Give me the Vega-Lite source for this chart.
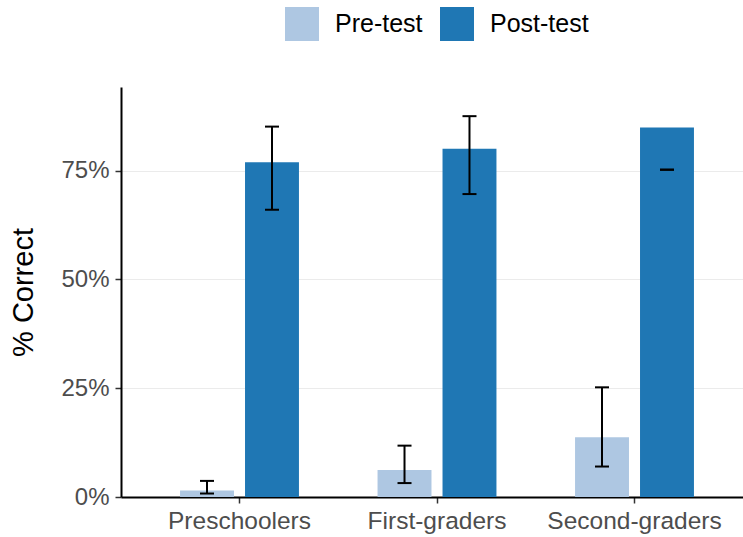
{
  "$schema": "https://vega.github.io/schema/vega-lite/v6.json",
  "width": 622,
  "height": 410,
  "autosize": {"type": "none"},
  "padding": {"left": 121, "top": 87, "right": 0, "bottom": 40},
  "background": "white",
  "data": {
    "values": [
      {"group": "Preschoolers", "test": "Pre-test", "value": 1.5, "lo": 0.8, "hi": 3.7},
      {"group": "Preschoolers", "test": "Post-test", "value": 76.9, "lo": 66.0, "hi": 85.1},
      {"group": "First-graders", "test": "Pre-test", "value": 6.2, "lo": 3.2, "hi": 11.8},
      {"group": "First-graders", "test": "Post-test", "value": 80.0, "lo": 69.6, "hi": 87.5},
      {"group": "Second-graders", "test": "Pre-test", "value": 13.7, "lo": 7.0, "hi": 25.2},
      {"group": "Second-graders", "test": "Post-test", "value": 84.9, "lo": 75.2, "hi": 75.2}
    ]
  },
  "encoding": {
    "x": {
      "field": "group",
      "type": "nominal",
      "sort": ["Preschoolers", "First-graders", "Second-graders"],
      "scale": {"paddingInner": 0.342, "paddingOuter": 0.271, "range": [0, 632]},
      "axis": {
        "title": null,
        "labelAngle": 0,
        "labelFont": "Liberation Sans",
        "labelFontSize": 24.5,
        "labelColor": "#4d4d4d",
        "labelPadding": 6,
        "tickSize": 6,
        "tickColor": "#333333",
        "tickWidth": 1.5,
        "domainColor": "#000000",
        "domainWidth": 2,
        "grid": false
      }
    },
    "xOffset": {
      "field": "test",
      "type": "nominal",
      "sort": ["Pre-test", "Post-test"],
      "scale": {"paddingInner": 0.17, "paddingOuter": 0.085}
    }
  },
  "layer": [
    {
      "mark": {"type": "bar"},
      "encoding": {
        "y": {
          "field": "value",
          "type": "quantitative",
          "scale": {"domain": [0, 94.2], "nice": false, "zero": true},
          "axis": {
            "title": "% Correct",
            "titleFont": "Liberation Sans",
            "titleFontSize": 29,
            "titleFontWeight": "normal",
            "titleColor": "#000000",
            "titlePadding": 22,
            "values": [0, 25, 50, 75],
            "labelExpr": "datum.value + '%'",
            "labelFont": "Liberation Sans",
            "labelFontSize": 24,
            "labelColor": "#4d4d4d",
            "labelPadding": 6,
            "tickSize": 6,
            "tickColor": "#333333",
            "tickWidth": 1.5,
            "domainColor": "#000000",
            "domainWidth": 2,
            "grid": true,
            "gridColor": "#ebebeb",
            "gridWidth": 1.2
          }
        },
        "color": {
          "field": "test",
          "type": "nominal",
          "sort": ["Pre-test", "Post-test"],
          "scale": {"domain": ["Pre-test", "Post-test"], "range": ["#aec7e2", "#1f77b4"]},
          "legend": {
            "title": null,
            "orient": "none",
            "direction": "horizontal",
            "legendX": 164,
            "legendY": -80,
            "symbolType": "square",
            "symbolSize": 1156,
            "symbolStrokeWidth": 0,
            "symbolOpacity": 1,
            "labelFont": "Liberation Sans",
            "labelFontSize": 25,
            "labelColor": "#000000",
            "labelOffset": 16,
            "columnPadding": 17,
            "padding": 0
          }
        }
      }
    },
    {
      "mark": {"type": "rule", "color": "#000000", "strokeWidth": 2},
      "encoding": {
        "y": {"field": "lo", "type": "quantitative"},
        "y2": {"field": "hi"}
      }
    },
    {
      "mark": {"type": "tick", "color": "#000000", "thickness": 2, "size": 14, "orient": "horizontal"},
      "encoding": {
        "y": {"field": "lo", "type": "quantitative"}
      }
    },
    {
      "mark": {"type": "tick", "color": "#000000", "thickness": 2, "size": 14, "orient": "horizontal"},
      "encoding": {
        "y": {"field": "hi", "type": "quantitative"}
      }
    }
  ],
  "config": {
    "view": {"stroke": null},
    "tick": {"opacity": 1}
  }
}
